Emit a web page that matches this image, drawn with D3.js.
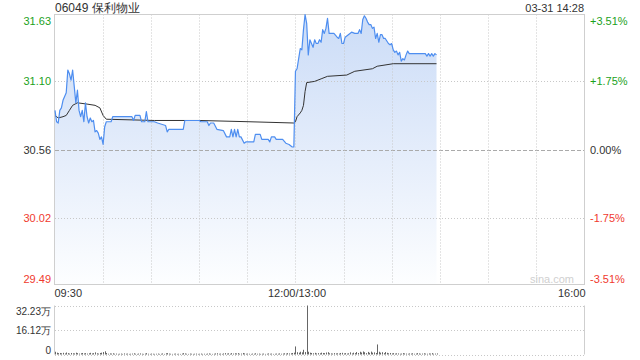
<!DOCTYPE html>
<html>
<head>
<meta charset="utf-8">
<script src="https://cdn.jsdelivr.net/npm/d3@7"></script>
<style>
  body { margin: 0; background: #fff; }
  svg { display: block; font-family: "Liberation Sans", Arial, sans-serif; }
</style>
</head>
<body>
<div id="chart"></div>
<script>
// Chart header
const stockTitle = "06049 保利物业";
const stampText = "03-31 14:28";
const prevClose = 30.56;

// Price axis ticks (left) and percent labels (right)
const priceTicks = [31.63, 31.10, 30.56, 30.02, 29.49];
const pctLabels = ["+3.51%", "+1.75%", "0.00%", "-1.75%", "-3.51%"];

// Time axis: minutes from 09:30 (lunch break collapsed at 150)
const gridMinutes = [0, 30, 60, 90, 120, 150, 180, 210, 240, 270, 300, 330];
const timeTickMinutes = [0, 150, 330];
const timeTickLabels = ["09:30", "12:00/13:00", "16:00"];

// Volume axis
const volTicks = [32.23, 16.12, 0];
const volLabels = ["32.23万", "16.12万", "0"];

// Price series (minute, price)
const priceMinutes = [0, 1, 2, 3, 4, 5, 7, 8, 9, 10, 11, 12, 13, 14, 15, 16, 17, 18, 19, 20,
  21, 22, 23, 24, 25, 26, 27, 28, 29, 30, 31, 32, 35, 36, 48, 49, 50, 53, 54, 56,
  57, 58, 62, 64, 69, 70, 71, 80, 81, 90, 91, 95, 96, 97, 99, 101, 105, 107, 109, 110,
  111, 112, 113, 114, 115, 116, 118, 119, 124, 125, 128, 129, 133, 134, 135, 137, 138, 142, 144, 146,
  148, 149, 150, 151, 152, 153, 154, 155, 156, 157, 158, 159, 160, 161, 162, 163, 164, 165, 166, 167,
  168, 169, 170, 171, 174, 176, 177, 178, 179, 180, 181, 183, 185, 187, 189, 190, 191, 192, 193, 194,
  195, 196, 197, 198, 199, 200, 201, 202, 203, 204, 205, 206, 208, 209, 210, 211, 212, 213, 214, 215,
  216, 217, 218, 219, 220, 221, 231, 232, 233, 234, 235, 236, 237, 238];
const priceValues = [30.87, 30.78, 30.77, 30.87, 30.89, 30.95, 31.01, 31.19, 31.16, 31.11, 31.19, 31.06, 30.93, 31.03, 30.87, 30.82, 30.87, 30.78, 30.93, 30.82,
  30.77, 30.81, 30.78, 30.79, 30.70, 30.71, 30.69, 30.64, 30.66, 30.60, 30.74, 30.78, 30.78, 30.82, 30.82, 30.79, 30.83, 30.83, 30.78, 30.78,
  30.86, 30.78, 30.78, 30.77, 30.75, 30.70, 30.72, 30.72, 30.79, 30.79, 30.78, 30.78, 30.75, 30.77, 30.77, 30.72, 30.71, 30.66, 30.66, 30.72,
  30.66, 30.72, 30.66, 30.72, 30.66, 30.66, 30.61, 30.62, 30.62, 30.68, 30.68, 30.64, 30.64, 30.62, 30.66, 30.66, 30.64, 30.64, 30.61, 30.60,
  30.58, 30.58, 31.18, 31.20, 31.28, 31.36, 31.35, 31.51, 31.63, 31.56, 31.31, 31.43, 31.40, 31.37, 31.43, 31.40, 31.40, 31.43, 31.41, 31.51,
  31.48, 31.52, 31.60, 31.48, 31.48, 31.45, 31.44, 31.48, 31.40, 31.40, 31.45, 31.47, 31.49, 31.48, 31.48, 31.51, 31.48, 31.59, 31.62, 31.60,
  31.57, 31.55, 31.55, 31.52, 31.53, 31.44, 31.48, 31.41, 31.47, 31.47, 31.44, 31.44, 31.40, 31.39, 31.40, 31.35, 31.33, 31.34, 31.31, 31.33,
  31.26, 31.28, 31.27, 31.31, 31.34, 31.32, 31.32, 31.30, 31.32, 31.30, 31.32, 31.30, 31.32, 31.31];

// Average price series (minute, price)
const avgMinutes = [0, 2, 5, 7, 9, 11, 14, 20, 25, 28, 30, 32, 62, 90, 121, 149,
  150, 151, 153, 154, 155, 156, 157, 162, 166, 170, 182, 187, 198, 201, 211, 238];
const avgValues = [30.83, 30.81, 30.82, 30.83, 30.87, 30.91, 30.93, 30.92, 30.91, 30.89, 30.83, 30.80, 30.79, 30.79, 30.78, 30.77,
  30.78, 30.82, 30.85, 30.87, 30.91, 31.02, 31.09, 31.10, 31.12, 31.14, 31.15, 31.18, 31.20, 31.22, 31.24, 31.24];

// Volume per minute (万), minute 0 .. 238
const volumes = [
  1.8, 1.2, 0.9, 1.0, 0.8, 1.1, 0.7, 1.3, 0.9, 0.6,
  1.0, 0.8, 0.7, 1.2, 0.9, 0.6, 0.8, 1.0, 0.7, 0.9,
  0.6, 0.8, 1.1, 0.7, 0.9, 1.4, 0.8, 0.6, 1.0, 1.2,
  1.6, 2.1, 1.0, 0.5, 0.7, 0.6, 0.8, 0.5, 0.6, 0.4,
  0.5, 0.6, 0.4, 0.7, 0.5, 0.6, 0.4, 0.5, 0.6, 0.8,
  0.5, 0.4, 0.6, 0.7, 0.5, 0.4, 0.6, 0.9, 0.5, 0.4,
  0.6, 0.5, 0.4, 0.5, 0.6, 0.4, 0.5, 0.7, 0.4, 0.8,
  0.9, 0.6, 0.5, 0.4, 0.5, 0.6, 0.4, 0.5, 0.4, 0.6,
  0.9, 0.7, 0.5, 0.4, 0.6, 0.5, 0.4, 0.5, 0.6, 0.4,
  0.5, 0.6, 0.4, 0.5, 0.4, 0.6, 0.7, 0.5, 0.4, 0.5,
  0.7, 0.8, 0.5, 0.6, 0.4, 0.7, 0.9, 0.6, 0.8, 0.5,
  0.9, 0.6, 0.8, 0.7, 0.9, 0.5, 0.6, 1.0, 0.7, 0.5,
  0.6, 0.5, 0.4, 0.6, 0.5, 0.8, 0.5, 0.6, 0.4, 0.5,
  0.6, 0.4, 0.5, 0.7, 0.5, 0.6, 0.4, 0.5, 0.6, 0.5,
  0.7, 0.5, 0.6, 0.8, 0.6, 0.9, 0.7, 0.8, 1.0, 1.2,
  5.3, 1.5, 1.2, 1.8, 1.4, 3.1, 1.6, 32.23, 1.8, 1.2,
  1.0, 0.8, 1.1, 0.7, 0.9, 0.8, 1.2, 1.0, 0.9, 1.3,
  1.5, 0.8, 0.7, 0.6, 0.9, 0.7, 0.8, 0.6, 1.0, 1.1,
  0.7, 0.9, 0.6, 0.8, 1.4, 0.7, 1.2, 0.9, 1.6, 1.0,
  1.8, 1.3, 2.0, 1.5, 0.9, 1.7, 1.1, 1.9, 1.2, 1.4,
  1.0, 6.6, 1.8, 1.2, 1.5, 0.9, 1.6, 1.1, 0.8, 1.0,
  0.7, 0.9, 0.6, 0.8, 0.7, 0.5, 0.6, 0.9, 0.7, 0.6,
  0.5, 0.7, 0.6, 0.8, 0.5, 0.6, 0.9, 0.7, 0.5, 0.6,
  0.8, 0.6, 0.5, 0.7, 0.6, 0.9, 0.5, 0.6, 0.7
];

// Set up sizes
const svgWidth = 640;
const svgHeight = 360;
const plot = { left: 55, right: 584, top: 14.5, bottom: 284.5 };
const volPlot = { top: 305.5, bottom: 354.5 };

const green = "#1ba11b";
const red = "#f03a2e";
const dark = "#333";
const lineBlue = "#4e8ef0";

const svg = d3.select("#chart")
  .append("svg")
  .attr("width", svgWidth)
  .attr("height", svgHeight);

const xScale = d3.scaleLinear().domain([0, 330]).range([plot.left, plot.right]);
const yScale = d3.scaleLinear().domain([29.49, 31.63]).range([plot.bottom, plot.top]);
const vScale = d3.scaleLinear().domain([0, 32.23]).range([volPlot.bottom, volPlot.top]);

function colorFor(i) {
  if (i < 2) return green;
  if (i === 2) return dark;
  return red;
}

// Gradient for the area under the price
const defs = svg.append("defs");
const grad = defs.append("linearGradient")
  .attr("id", "areaFill")
  .attr("gradientUnits", "userSpaceOnUse")
  .attr("x1", 0).attr("y1", plot.top)
  .attr("x2", 0).attr("y2", plot.bottom);
grad.append("stop").attr("offset", "0%").attr("stop-color", "#cbdcf7");
grad.append("stop").attr("offset", "55%").attr("stop-color", "#e6eefb");
grad.append("stop").attr("offset", "100%").attr("stop-color", "#fdfeff");

const priceData = priceMinutes.map((m, i) => ({ m: m, p: priceValues[i] }));
const avgData = avgMinutes.map((m, i) => ({ m: m, p: avgValues[i] }));

// Area fill
svg.append("path")
  .datum(priceData)
  .attr("fill", "url(#areaFill)")
  .attr("d", d3.area()
    .x(d => xScale(d.m))
    .y0(plot.bottom)
    .y1(d => yScale(d.p)));

// Grid: horizontal
const gridG = svg.append("g");
priceTicks.forEach((t, i) => {
  if (i === 0 || i === priceTicks.length - 1) return;
  const yy = Math.round(yScale(t)) + 0.5;
  gridG.append("line")
    .attr("x1", plot.left).attr("x2", plot.right)
    .attr("y1", yy).attr("y2", yy)
    .attr("stroke", t === prevClose ? "#aaa" : "#c8c8c8")
    .attr("stroke-dasharray", t === prevClose ? "4,2" : "1,2");
});
// Grid: vertical
gridMinutes.slice(1, -1).forEach(m => {
  const xx = Math.round(xScale(m)) + 0.5;
  gridG.append("line")
    .attr("x1", xx).attr("x2", xx)
    .attr("y1", plot.top).attr("y2", plot.bottom)
    .attr("stroke", "#c8c8c8")
    .attr("stroke-dasharray", "1,2");
});

// Frame
svg.append("rect")
  .attr("x", plot.left - 0.5).attr("y", plot.top)
  .attr("width", plot.right - plot.left + 1)
  .attr("height", plot.bottom - plot.top)
  .attr("fill", "none")
  .attr("stroke", "#cfcfcf");

// Watermark
svg.append("text")
  .attr("x", 552).attr("y", 283)
  .attr("text-anchor", "middle")
  .attr("font-size", 11)
  .attr("fill", "#d0d0d0")
  .text("sina.com");

// Average line
svg.append("path")
  .datum(avgData)
  .attr("fill", "none")
  .attr("stroke", "#333")
  .attr("stroke-width", 1)
  .attr("d", d3.line().x(d => xScale(d.m)).y(d => yScale(d.p)));

// Price line
svg.append("path")
  .datum(priceData)
  .attr("fill", "none")
  .attr("stroke", lineBlue)
  .attr("stroke-width", 1.2)
  .attr("stroke-linejoin", "round")
  .attr("d", d3.line().x(d => xScale(d.m)).y(d => yScale(d.p)));

// Left price labels
const leftAxis = svg.append("g")
  .attr("transform", `translate(${plot.left - 4},0)`)
  .call(d3.axisLeft(yScale).tickValues(priceTicks).tickSize(0).tickFormat(d3.format(".2f")));
leftAxis.select(".domain").remove();
leftAxis.selectAll(".tick text")
  .attr("font-size", 11)
  .attr("font-family", "Liberation Sans, Arial, sans-serif")
  .attr("fill", (d, i) => colorFor(i))
  .attr("x", 0)
  .attr("dy", (d, i) => i === 0 ? "0.9em" : (i === priceTicks.length - 1 ? "-0.2em" : "0.32em"));

// Right percent labels
const rightAxis = svg.append("g")
  .attr("transform", `translate(${plot.right + 6},0)`)
  .call(d3.axisRight(yScale).tickValues(priceTicks).tickSize(0).tickFormat((d, i) => pctLabels[i]));
rightAxis.select(".domain").remove();
rightAxis.selectAll(".tick text")
  .attr("font-size", 11)
  .attr("font-family", "Liberation Sans, Arial, sans-serif")
  .attr("fill", (d, i) => colorFor(i))
  .attr("x", 0)
  .attr("dy", (d, i) => i === 0 ? "0.9em" : (i === priceTicks.length - 1 ? "-0.2em" : "0.32em"));

// Time labels
const timeAxis = svg.append("g")
  .attr("transform", `translate(0,${plot.bottom + 3})`)
  .call(d3.axisBottom(xScale).tickValues(timeTickMinutes).tickSize(0).tickFormat((d, i) => timeTickLabels[i]));
timeAxis.select(".domain").remove();
timeAxis.selectAll(".tick text")
  .attr("font-size", 11)
  .attr("font-family", "Liberation Sans, Arial, sans-serif")
  .attr("fill", dark)
  .attr("y", 2)
  .attr("text-anchor", (d, i) => i === 0 ? "start" : (i === 2 ? "end" : "middle"))
  .attr("dx", (d, i) => i === 0 ? "-1" : (i === 2 ? "1" : "1"));

// Title and timestamp
svg.append("text")
  .attr("x", 55).attr("y", 12)
  .attr("font-size", 12)
  .attr("fill", dark)
  .text(stockTitle);
svg.append("text")
  .attr("x", 584).attr("y", 12)
  .attr("text-anchor", "end")
  .attr("font-size", 11)
  .attr("fill", dark)
  .text(stampText);

// Volume panel grid
const volG = svg.append("g");
volTicks.forEach(t => {
  const yy = Math.round(vScale(t)) + 0.5;
  volG.append("line")
    .attr("x1", plot.left).attr("x2", plot.right)
    .attr("y1", yy).attr("y2", yy)
    .attr("stroke", "#c8c8c8")
    .attr("stroke-dasharray", "1,2");
});
volG.append("line")
  .attr("x1", plot.left - 0.5).attr("x2", plot.left - 0.5)
  .attr("y1", volPlot.top).attr("y2", volPlot.bottom)
  .attr("stroke", "#cfcfcf");
volG.append("line")
  .attr("x1", plot.right + 0.5).attr("x2", plot.right + 0.5)
  .attr("y1", volPlot.top).attr("y2", volPlot.bottom)
  .attr("stroke", "#cfcfcf");

// Volume bars
volG.selectAll("line.bar")
  .data(volumes)
  .enter()
  .append("line")
  .attr("class", "bar")
  .attr("x1", (d, i) => Math.round(xScale(i)) + 0.5)
  .attr("x2", (d, i) => Math.round(xScale(i)) + 0.5)
  .attr("y1", vScale(0))
  .attr("y2", d => vScale(d))
  .attr("stroke", "#666")
  .attr("stroke-width", 1);

// Volume labels
const volAxis = svg.append("g")
  .attr("transform", `translate(${plot.left - 4},0)`)
  .call(d3.axisLeft(vScale).tickValues(volTicks).tickSize(0).tickFormat((d, i) => volLabels[i]));
volAxis.select(".domain").remove();
volAxis.selectAll(".tick text")
  .attr("font-size", 10)
  .attr("font-family", "Liberation Sans, Arial, sans-serif")
  .attr("fill", dark)
  .attr("x", 0)
  .attr("dy", (d, i) => i === 0 ? "0.85em" : (i === 2 ? "-0.15em" : "0.32em"));
</script>
</body>
</html>
